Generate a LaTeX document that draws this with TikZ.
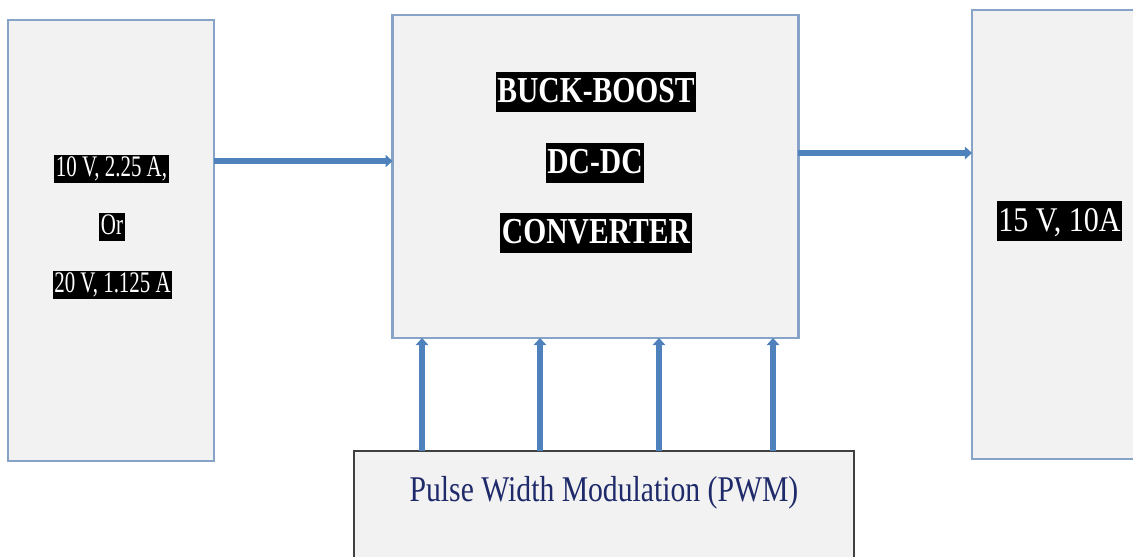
\documentclass[tikz,border=0pt]{standalone}
\usepackage{fontspec}
\setmainfont{Liberation Serif}
\newfontfamily\srcfont[FakeStretch=0.7]{Liberation Serif}
\newfontfamily\convfont[FakeStretch=0.81]{Liberation Serif}
\newfontfamily\loadfont[FakeStretch=0.87]{Liberation Serif}
\newfontfamily\pwmfont[FakeStretch=0.82]{Liberation Serif}
\usetikzlibrary{arrows.meta}
\definecolor{boxline}{HTML}{87A3C7}
\definecolor{boxfill}{HTML}{F2F2F2}
\definecolor{pwmline}{HTML}{404040}
\definecolor{flowblue}{HTML}{4F81BD}
\definecolor{pwmtext}{HTML}{1F2A6A}

\begin{document}
\begin{tikzpicture}[x=0.02cm, y=-0.02cm,
    block/.style ={rectangle, draw=boxline, fill=boxfill, line width=1.6pt, inner sep=0pt, outer sep=0pt},
    hilite/.style ={fill=black, text=white, inner xsep=1pt, inner ysep=0pt},
    srclabel/.style ={hilite, font=\srcfont\fontsize{17}{20}\selectfont, text height=12.3pt, text depth=4.1pt},
    convlabel/.style ={hilite, font=\convfont\bfseries\fontsize{20.8}{24}\selectfont, text height=17.4pt, text depth=5.8pt},
    loadlabel/.style ={hilite, font=\loadfont\fontsize{19.7}{23}\selectfont, text height=17.2pt, text depth=5.8pt},
    flow/.style ={draw=flowblue, line width=3.2pt, -{Triangle[length=4pt,width=7pt]}}]
   \useasboundingbox (0,0) rectangle (1133,556);

   \node[block, minimum width=4.12cm, minimum height=8.82cm] (src)  at (111,240.5)  {};
   \node[block, minimum width=8.12cm, minimum height=6.46cm] (conv) at (595.5,176.5) {};
   \node[block, minimum width=3.6cm, minimum height=8.98cm] (load) at (1062,234.5) {};
   \node[block, draw=pwmline, line width=1.1pt, minimum width=10cm, minimum height=2.4cm] (pwm) at (604,511) {};

   \node[srclabel] (srcA) at (111.5,169) {10 V, 2.25 A,};
   \node[srclabel] (srcB) at (112,227) {Or};
   \node[srclabel] (srcC) at (112.5,285) {20 V, 1.125 A};

   \node[convlabel] (convA) at (596,92) {BUCK-BOOST};
   \node[convlabel] (convB) at (595,163) {DC-DC};
   \node[convlabel] (convC) at (596,233) {CONVERTER};

   \node[loadlabel] (loadA) at (1059.5,221) {15 V, 10A};

   \node[text=pwmtext, font=\pwmfont\fontsize{20.6}{24}\selectfont] (pwmA) at (604,493) {Pulse Width Modulation (PWM)};

   \draw[flow] (src.east |- 0,161) -- (conv.west |- 0,161);
   \draw[flow] (conv.east |- 0,153) -- (load.west |- 0,153);
   \foreach \x in {422,540,659,773}
      \draw[flow] (pwm.north -| \x,0) -- (conv.south -| \x,0);
 \end{tikzpicture}
\end{document}
